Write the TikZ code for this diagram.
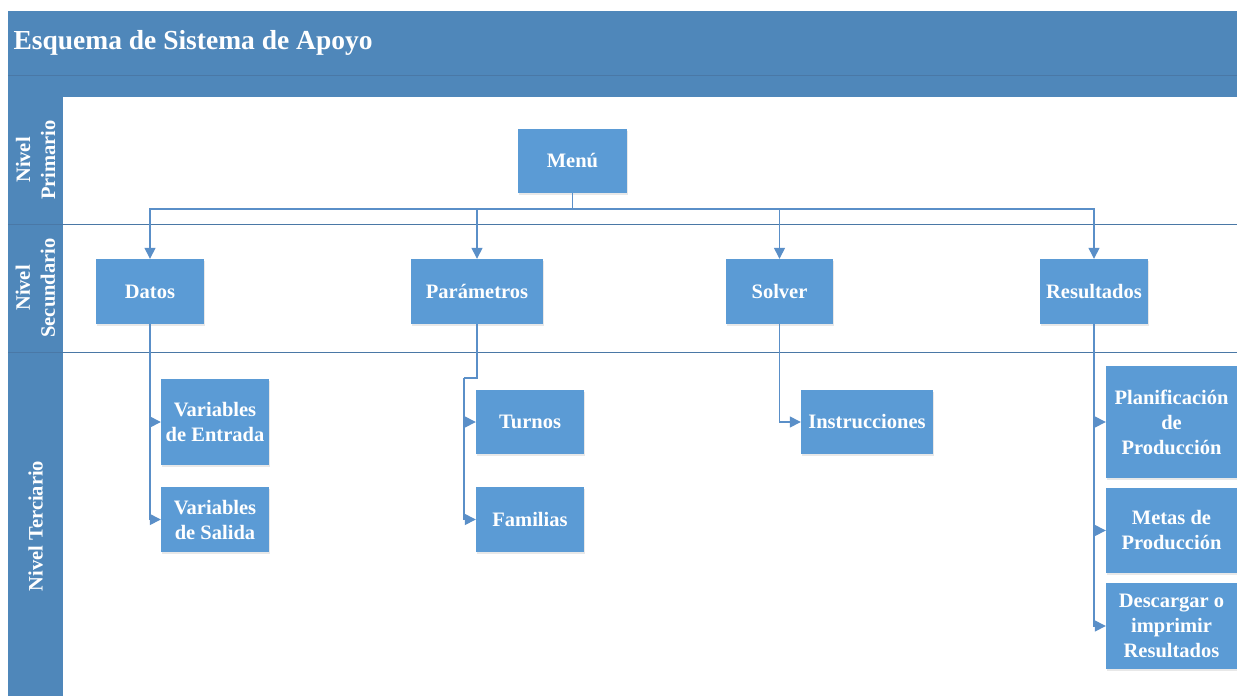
\documentclass[tikz,border=0pt]{standalone}
\usepackage{fontspec}
\setmainfont{Liberation Serif}
\usetikzlibrary{arrows.meta,shadows}
\definecolor{band}{HTML}{4F87BA}
\definecolor{boxfill}{HTML}{5B9BD5}
\definecolor{wire}{HTML}{5A8FC8}
\definecolor{rule}{HTML}{4A78A6}

\begin{document}
\begin{tikzpicture}[x=1pt,y=-1pt,
  box/.style={fill=boxfill, text=white, font=\fontsize{20.5}{25}\selectfont\bfseries,
    align=center, inner sep=0pt,
    drop shadow={opacity=0.18, shadow xshift=1pt, shadow yshift=-1.5pt}},
  link/.style={draw=wire, line width=1.4pt},
  conn/.style={link, -{Triangle[length=11pt,width=11pt]}},
  lanelabel/.style={text=white, font=\fontsize{20.5}{25}\selectfont\bfseries,
    align=center, rotate=90}
]
\useasboundingbox (0,0) rectangle (1237,696);
\fill[white] (0,0) rectangle (1237,696);

% header band and lane column
\fill[band] (8,11) rectangle (1237,97);
\fill[band] (8,97) rectangle (63,696);
\draw[rule, line width=1pt] (8,75) -- (1237,75);
\draw[rule, line width=1pt] (8,224) -- (1237,224);
\draw[rule, line width=1pt] (8,352) -- (1237,352);

\node[anchor=west, text=white, font=\fontsize{27.5}{30}\selectfont\bfseries]
  (title) at (10,43) {Esquema de Sistema de Apoyo};

% lane labels
\node[lanelabel] (lprim) at (35.5,160) {Nivel\\Primario};
\node[lanelabel] (lsec) at (35.5,288) {Nivel\\Secundario};
\node[lanelabel] (lter) at (35.5,526) {Nivel Terciario};

% primary level
\node[box, minimum width=109pt, minimum height=64pt] (menu) at (572.5,161) {Menú};

% secondary level
\node[box, minimum width=108pt, minimum height=65pt] (datos) at (150,291.5) {Datos};
\node[box, minimum width=132pt, minimum height=65pt] (param) at (477,291.5) {Parámetros};
\node[box, minimum width=107pt, minimum height=65pt] (solver) at (779.5,291.5) {Solver};
\node[box, minimum width=108pt, minimum height=65pt] (result) at (1094,291.5) {Resultados};

% tertiary level
\node[box, minimum width=108pt, minimum height=86pt] (vent) at (215,422) {Variables\\de Entrada};
\node[box, minimum width=108pt, minimum height=65pt] (vsal) at (215,519.5) {Variables\\de Salida};
\node[box, minimum width=108pt, minimum height=64pt] (turnos) at (530,422) {Turnos};
\node[box, minimum width=108pt, minimum height=65pt] (familias) at (530,519.5) {Familias};
\node[box, minimum width=132pt, minimum height=64pt] (instr) at (867,422) {Instrucciones};
\node[box, minimum width=131pt, minimum height=112pt] (plan) at (1171.5,422) {Planificación\\de\\Producción};
\node[box, minimum width=131pt, minimum height=85pt] (metas) at (1171.5,530.5) {Metas de\\Producción};
\node[box, minimum width=131pt, minimum height=86pt] (desc) at (1171.5,626) {Descargar o\\imprimir\\Resultados};

% connectors from the menu
\coordinate (bus) at (572.5,209);
\draw[link] (menu.south) -- (bus);
\draw[conn] (bus) -| (datos.north);
\draw[conn] (bus) -| (param.north);
\draw[conn] (bus) -| (solver.north);
\draw[conn] (bus) -| (result.north);

% connectors to the tertiary level
\draw[conn] (datos.south) |- (vent.west);
\draw[conn] (datos.south) |- (vsal.west);

\coordinate (pelbow) at (464,378);
\draw[link] (param.south) |- (pelbow);
\draw[conn] (pelbow) |- (turnos.west);
\draw[conn] (pelbow) |- (familias.west);

\draw[conn] (solver.south) |- (instr.west);

\draw[conn] (result.south) |- (plan.west);
\draw[conn] (result.south) |- (metas.west);
\draw[conn] (result.south) |- (desc.west);
\end{tikzpicture}
\end{document}
